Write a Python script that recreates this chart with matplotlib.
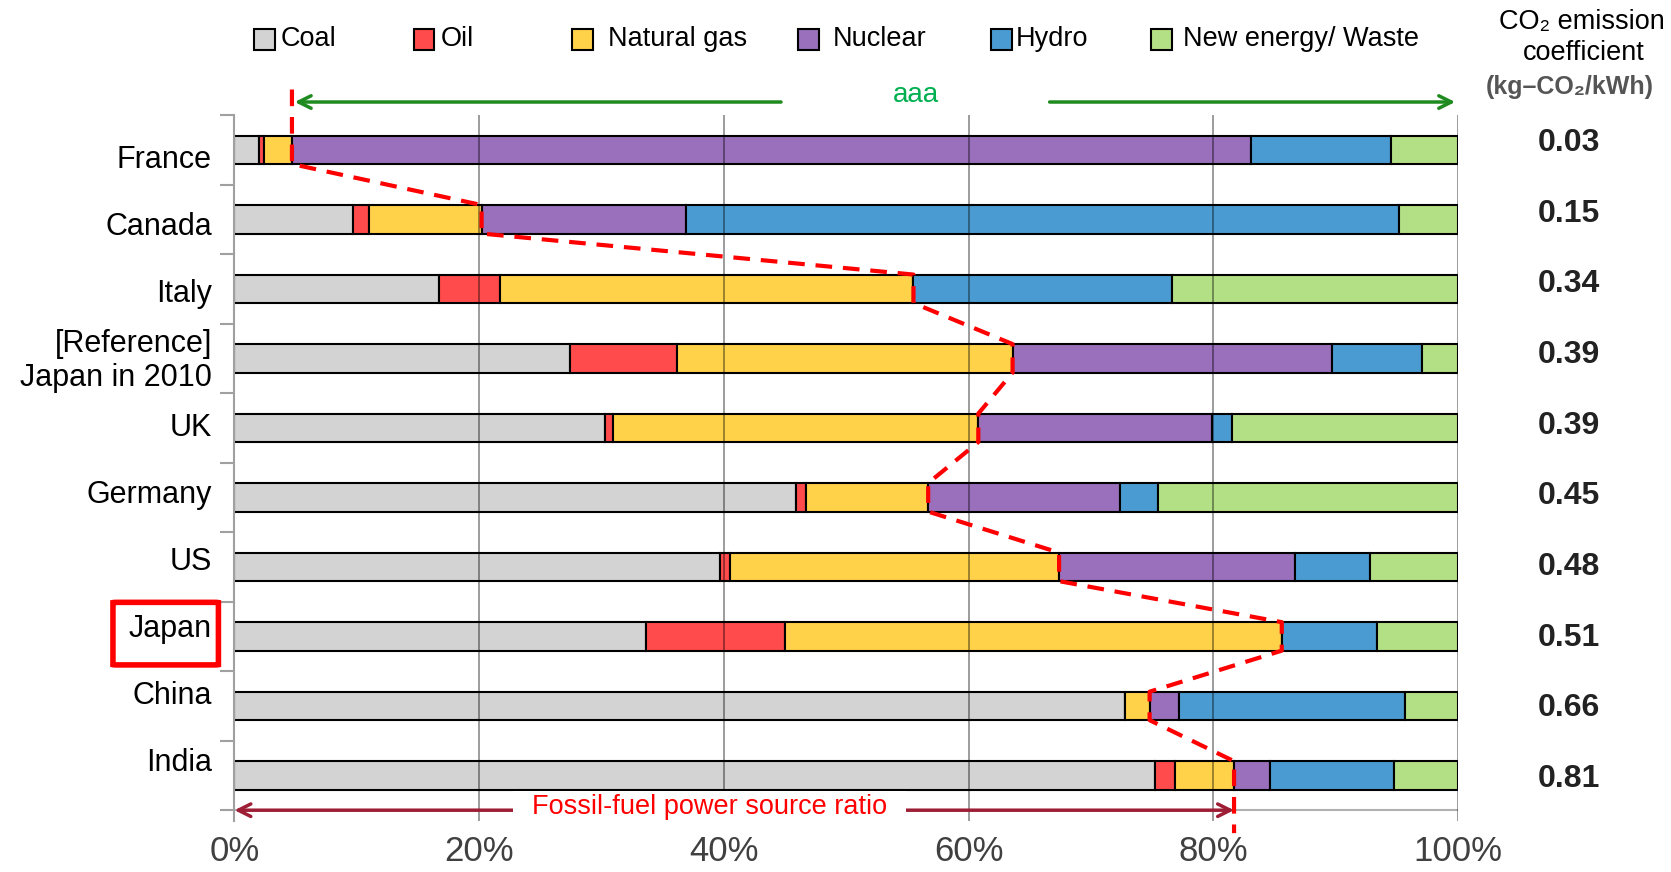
import matplotlib
matplotlib.use("Agg")
import matplotlib.pyplot as plt
from matplotlib.patches import Rectangle, FancyBboxPatch
import matplotlib.transforms as mtransforms
import numpy as np

countries = ["France", "Canada", "Italy", "[Reference]\nJapan in 2010", "UK",
             "Germany", "US", "Japan", "China", "India"]
coal = [2.0, 9.7, 16.7, 27.4, 30.3, 45.9, 39.7, 33.6, 72.8, 75.2]
oil = [0.4, 1.3, 5.0, 8.8, 0.6, 0.8, 0.8, 11.4, 0.0, 1.7]
gas = [2.3, 9.2, 33.8, 27.4, 29.9, 10.0, 26.9, 40.6, 2.0, 4.8]
nuclear = [78.4, 16.7, 0.0, 26.1, 19.1, 15.7, 19.3, 0.0, 2.4, 2.9]
hydro = [11.4, 58.3, 21.1, 7.4, 1.6, 3.1, 6.1, 7.8, 18.5, 10.2]
new_energy = [5.5, 4.8, 23.4, 2.9, 18.5, 24.5, 7.2, 6.6, 4.3, 5.2]
co2_coef = ["0.03", "0.15", "0.34", "0.39", "0.39", "0.45", "0.48", "0.51", "0.66", "0.81"]
source_names = ["Coal", "Oil", "Natural gas", "Nuclear", "Hydro", "New energy/ Waste"]
x_ticks = [0, 20, 40, 60, 80, 100]
x_tick_labels = ["0%", "20%", "40%", "60%", "80%", "100%"]

colors = ["#d3d3d3", "#ff4b4b", "#ffd24a", "#9a6fbb", "#4b9bd3", "#b3df85"]
SANS = ["Liberation Sans", "DejaVu Sans"]

series = [coal, oil, gas, nuclear, hydro, new_energy]
n = len(countries)
ypos = np.arange(n)
bar_h = 0.41

fig = plt.figure(figsize=(16.71, 8.72), dpi=100)
ax = fig.add_axes([0.1403, 0.0589, 0.7322, 0.8092])

left = np.zeros(n)
for vals, col in zip(series, colors):
    v = np.array(vals)
    ax.barh(ypos, v, left=left, height=bar_h, color=col, edgecolor="black",
            linewidth=1.5, zorder=2)
    left = left + v

ax.set_xlim(0, 100)
ax.set_ylim(n - 0.5 + 0.15, -0.5)

# vertical gridlines on top of bars
for xt in x_ticks[1:]:
    ax.axvline(xt, color="black", alpha=0.42, linewidth=1.3, zorder=3)
ax.axhline(n - 0.5, color="#b0b0b0", linewidth=1.5, zorder=1)

ax.set_xticks(x_ticks)
ax.set_xticklabels(x_tick_labels, fontsize=25, color="#404040", family=SANS)
ax.tick_params(axis="x", length=0, pad=10)
ax.set_yticks(np.arange(-0.5, n, 1.0))
ax.set_yticklabels([])
ax.tick_params(axis="y", length=10, width=1.5, color="#a0a0a0", direction="out")
for s in ["top", "right", "bottom"]:
    ax.spines[s].set_visible(False)
ax.spines["left"].set_color("#a0a0a0")
ax.spines["left"].set_linewidth(1.5)

blend = mtransforms.blended_transform_factory(ax.transAxes, ax.transData)
# category labels
for i, name in enumerate(countries):
    ax.text(-0.0184, 0.15 + 0.963 * i, name, transform=blend, ha="right",
            va="center", fontsize=22, family=SANS, color="black",
            linespacing=1.15)
# red box around Japan
box = FancyBboxPatch((-0.0993, 6.51), 0.0862, 0.90, transform=blend,
                     boxstyle="round,pad=0,rounding_size=0.004",
                     fill=False, edgecolor="#ff0000", linewidth=4.0,
                     clip_on=False, zorder=5)
ax.add_patch(box)

# CO2 coefficient values
for i, v in enumerate(co2_coef):
    ax.text(1.0907, -0.10 + 1.017 * i, v, transform=blend, ha="center",
            va="center", fontsize=23, family=SANS, fontweight="bold",
            color="#222222")

# fossil share dashed path
fossil = np.array(coal) + np.array(oil) + np.array(gas)
px, py = [fossil[0]], [-0.867]
for i in range(n):
    px += [fossil[i], fossil[i]]
    py += [i - bar_h / 2, i + bar_h / 2]
px.append(fossil[-1])
py.append(9.83)
ax.plot(px[:1] + px[2:], py[:1] + py[2:], color="#ff0000", linewidth=3.0,
        dashes=(4, 2.6), clip_on=False, zorder=6)

# green arrows
ax.annotate("", xy=(fossil[0], -0.687), xytext=(44.9, -0.687),
            arrowprops=dict(arrowstyle="->,head_length=0.9,head_width=0.45",
                            color="#1f8a1f", lw=2.5), annotation_clip=False)
ax.annotate("", xy=(100, -0.687), xytext=(66.4, -0.687),
            arrowprops=dict(arrowstyle="->,head_length=0.9,head_width=0.45",
                            color="#1f8a1f", lw=2.5), annotation_clip=False)
ax.text(55.7, -0.79, "aaa", ha="center", va="center", fontsize=20,
        family=SANS, color="#00b050", clip_on=False)

# fossil-fuel arrow at bottom
ax.annotate("", xy=(0, n - 0.5), xytext=(fossil[-1], n - 0.5),
            arrowprops=dict(arrowstyle="<->,head_length=0.9,head_width=0.45",
                            color="#9e1f35", lw=2.5, shrinkA=0, shrinkB=0),
            annotation_clip=False, zorder=4)
ax.add_patch(Rectangle((22.8, 9.23), 32.1, 0.6, facecolor="white",
                       edgecolor="none", clip_on=False, zorder=4.5))
ax.text(38.85, 9.46, "Fossil-fuel power source ratio", ha="center",
        va="center", fontsize=19.5, family=SANS, color="#ff0000", zorder=5)

# legend (manual)
leg_patch_x = [253.6, 413.5, 572.0, 798.0, 991.0, 1151.0]
leg_text_x = [281.0, 441.0, 607.5, 833.0, 1015.6, 1183.0]
W, H = 1671.0, 872.0
for name, col, pxl, tx in zip(source_names, colors, leg_patch_x, leg_text_x):
    fig.add_artist(Rectangle((pxl / W, 1 - 50.0 / H), 21 / W, 21 / H,
                             facecolor=col, edgecolor="black", linewidth=1.5,
                             transform=fig.transFigure))
    fig.text(tx / W, 1 - 39.0 / H, name, ha="left", va="center", fontsize=19.5,
             family=SANS, color="black")

# header for coefficient column
fig.text(1582.0 / W, 1 - 22.0 / H, "CO\u2082 emission", ha="center", va="center",
         fontsize=19.5, family=SANS, color="black")
fig.text(1584.0 / W, 1 - 53.0 / H, "coefficient", ha="center", va="center",
         fontsize=19.5, family=SANS, color="black")
fig.text(1570 / W, 1 - 87.0 / H, "(kg\u2013CO\u2082/kWh)", ha="center",
         va="center", fontsize=18, family=SANS, fontweight="bold",
         color="#555555")

fig.savefig("out.png", dpi=100)
